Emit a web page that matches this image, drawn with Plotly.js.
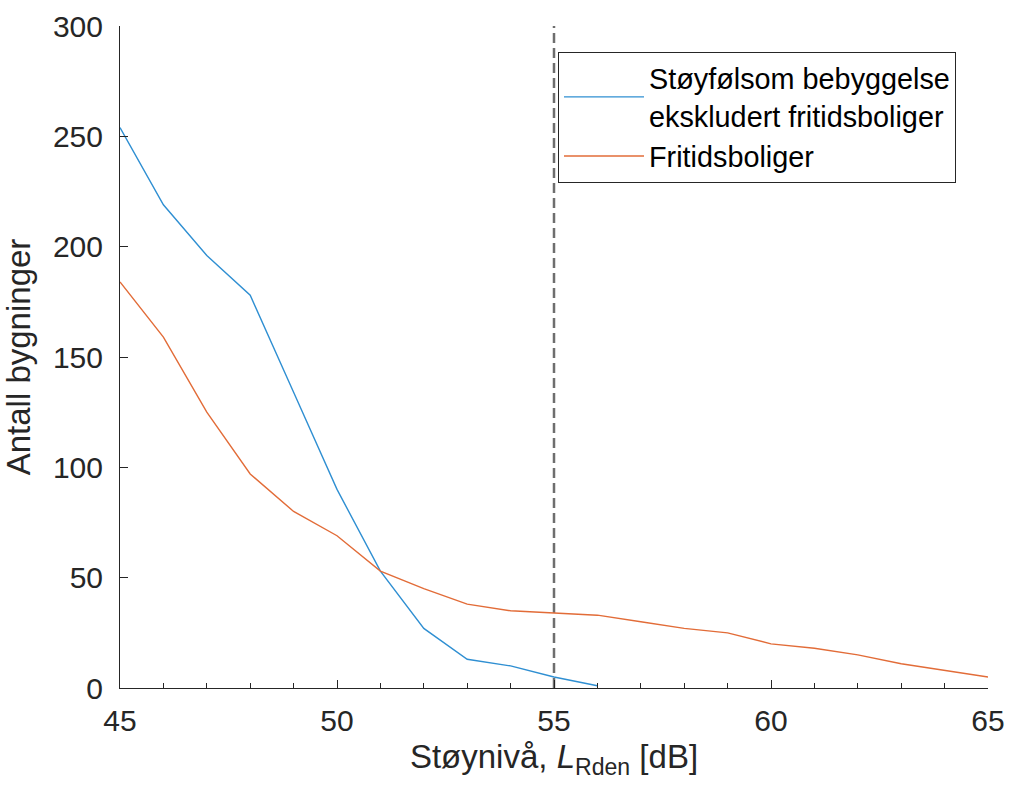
<!DOCTYPE html>
<html>
<head>
<meta charset="utf-8">
<script src="https://cdn.plot.ly/plotly-3.0.1.min.js"></script>
<style>html,body{margin:0;padding:0;background:#fff;}#chart{width:1009px;height:798px;}</style>
</head>
<body>
<div id="chart"></div>
<script>
// Noise level (dB) for each series
const xSensitive = [45, 46, 47, 48, 49, 50, 51, 52, 53, 54, 55, 56];
const ySensitive = [254, 219, 196, 178, 134, 90, 53, 27, 13, 10, 5, 1];
const xHoliday = [45, 46, 47, 48, 49, 50, 51, 52, 53, 54, 55, 56, 57, 58, 59, 60, 61, 62, 63, 64, 65];
const yHoliday = [184, 159, 125, 97, 80, 69, 53, 45, 38, 35, 34, 33, 30, 27, 25, 20, 18, 15, 11, 8, 5];
const nameSensitive = 'Støyfølsom bebyggelse<br>ekskludert fritidsboliger';
const nameHoliday = 'Fritidsboliger';
const thresholdDb = [55];
const xTicks = [45, 50, 55, 60, 65];
const yTicks = [0, 50, 100, 150, 200, 250, 300];

const ink = '#262626';
const font = 'Liberation Sans, Arial, Helvetica, sans-serif';

const traces = [
  {x: xSensitive, y: ySensitive, name: nameSensitive, type: 'scatter', mode: 'lines',
   line: {color: '#2F8FD2', width: 1.4}},
  {x: xHoliday, y: yHoliday, name: nameHoliday, type: 'scatter', mode: 'lines',
   line: {color: '#E26C38', width: 1.4}}
];

const layout = {
  width: 1009, height: 798,
  margin: {l: 120, r: 21, t: 26, b: 110},
  paper_bgcolor: '#fff', plot_bgcolor: '#fff',
  font: {family: font, color: ink, size: 30},
  showlegend: true,
  legend: {
    x: 0.5046, y: 0.9608, xanchor: 'left', yanchor: 'top',
    bgcolor: '#fff', bordercolor: ink, borderwidth: 1,
    font: {family: font, size: 28.8, color: '#000'},
    itemwidth: 80, valign: 'middle', tracegroupgap: 0
  },
  xaxis: {
    range: [45, 65], tickvals: xTicks, ticktext: xTicks.map(String),
    showgrid: false, zeroline: false, showline: true, linecolor: ink, linewidth: 1,
    ticks: 'inside', ticklen: 8, tickcolor: ink, tickwidth: 1,
    minor: {dtick: 1, ticks: 'inside', ticklen: 5, tickcolor: ink, showgrid: false},
    tickfont: {size: 30, color: ink}, ticklabelstandoff: 6,
    title: {text: 'Støynivå, <i>L</i><sub>Rden</sub> [dB]', font: {size: 33, color: ink}, standoff: 8}
  },
  yaxis: {
    range: [0, 300], tickvals: yTicks, ticktext: yTicks.map(String),
    showgrid: false, zeroline: false, showline: true, linecolor: ink, linewidth: 1,
    ticks: 'inside', ticklen: 8, tickcolor: ink, tickwidth: 1,
    tickfont: {size: 30, color: ink}, ticklabelstandoff: 10,
    title: {text: 'Antall bygninger', font: {size: 33, color: ink}, standoff: 12}
  },
  shapes: thresholdDb.map(v => ({
    type: 'line', xref: 'x', yref: 'paper', x0: v, x1: v, y0: 0, y1: 1,
    line: {color: '#6e6e6e', width: 2.5, dash: '10px,5px'}, layer: 'below'
  }))
};

Plotly.newPlot('chart', traces, layout, {displayModeBar: false, staticPlot: true});
</script>
</body>
</html>
